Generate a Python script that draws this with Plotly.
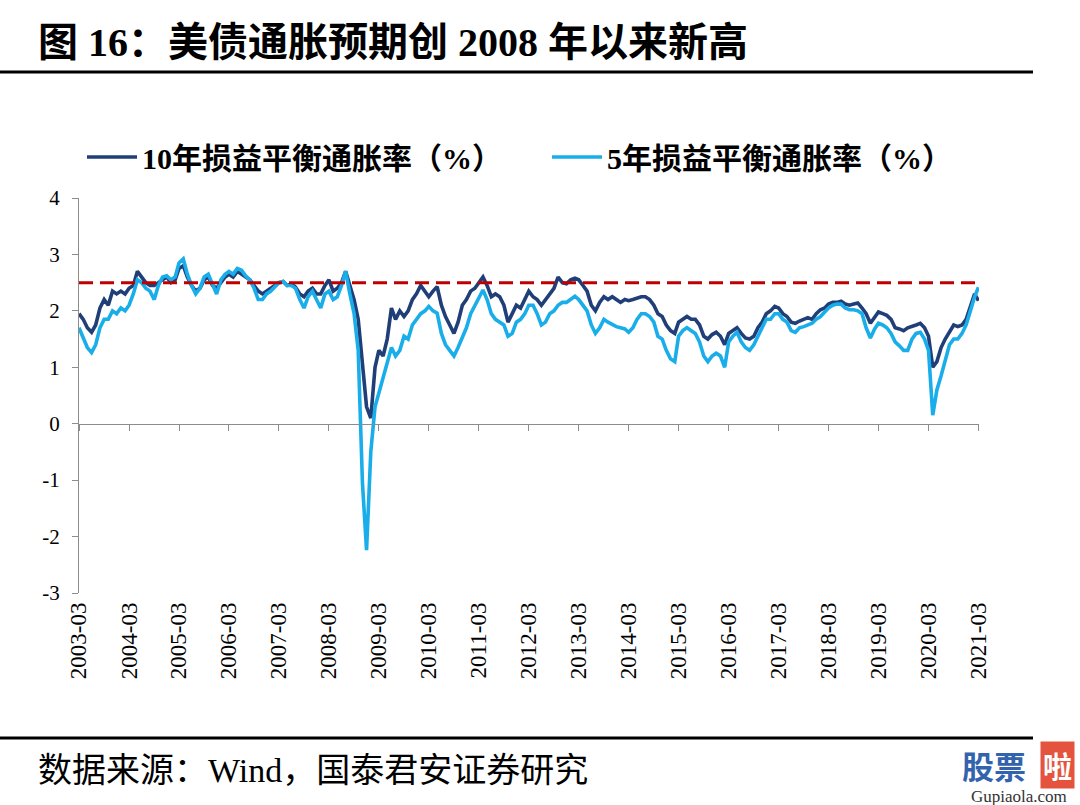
import pandas as pd
import plotly.graph_objects as go

# ---------------- data ----------------
start_month = "2003-03-01"
years = list(range(2003, 2022))
tick_labels = [f"{y}-03" for y in years]

be10 = [
    1.95, 1.85, 1.7, 1.62, 1.75, 2.05, 2.2, 2.1, 2.35, 2.3, 2.35, 2.3,
    2.4, 2.45, 2.7, 2.6, 2.5, 2.45, 2.45, 2.5, 2.55, 2.6, 2.5, 2.55,
    2.75, 2.8, 2.6, 2.45, 2.35, 2.4, 2.55, 2.6, 2.45, 2.4, 2.5, 2.6,
    2.65, 2.6, 2.7, 2.65, 2.6, 2.55, 2.45, 2.35, 2.3, 2.35, 2.4, 2.45,
    2.5, 2.52, 2.45, 2.48, 2.42, 2.3, 2.25, 2.35, 2.4, 2.3, 2.3, 2.45,
    2.55, 2.35, 2.4, 2.5, 2.7, 2.45, 2.2, 1.85, 1.0, 0.3, 0.1, 1.0,
    1.3, 1.2, 1.5, 2.05, 1.85, 2.0, 1.9, 2.0, 2.2, 2.3, 2.45, 2.35,
    2.25, 2.35, 2.43, 2.1, 1.9, 1.75, 1.6, 1.8, 2.1, 2.2, 2.35, 2.4,
    2.5, 2.6, 2.45, 2.25, 2.3, 2.25, 2.1, 1.8, 1.95, 2.1, 2.05, 2.2,
    2.35, 2.25, 2.2, 2.1, 2.2, 2.3, 2.4, 2.6, 2.5, 2.48, 2.55, 2.58,
    2.55, 2.45, 2.35, 2.1, 2.0, 2.15, 2.25, 2.2, 2.25, 2.2, 2.15, 2.2,
    2.18, 2.2, 2.22, 2.25, 2.25, 2.2, 2.1, 1.95, 1.9, 1.75, 1.65, 1.6,
    1.8, 1.85, 1.9, 1.85, 1.85, 1.75, 1.55, 1.5, 1.58, 1.62, 1.55, 1.4,
    1.6, 1.65, 1.7, 1.6, 1.52, 1.5, 1.55, 1.7, 1.8, 1.95, 2.0, 2.08,
    2.05, 1.95, 1.9, 1.8, 1.78, 1.82, 1.85, 1.88, 1.85, 1.95, 2.02, 2.05,
    2.12, 2.15, 2.15, 2.17, 2.12, 2.1, 2.12, 2.14, 2.05, 1.95, 1.78, 1.9,
    1.98, 1.95, 1.92, 1.85, 1.7, 1.68, 1.65, 1.7, 1.72, 1.75, 1.78, 1.7,
    1.55, 1.0, 1.1, 1.35, 1.5, 1.62, 1.75, 1.72, 1.75, 1.85, 2.1, 2.3,
    2.18,
]

be5 = [
    1.7, 1.5, 1.35, 1.26, 1.4, 1.7, 1.85, 1.85, 2.0, 1.95, 2.05, 2.0,
    2.1, 2.3, 2.55, 2.5, 2.4, 2.35, 2.2, 2.45, 2.6, 2.62, 2.55, 2.6,
    2.85, 2.92, 2.65, 2.45, 2.3, 2.4, 2.6, 2.65, 2.45, 2.3, 2.55, 2.65,
    2.7, 2.65, 2.75, 2.72, 2.62, 2.55, 2.4, 2.2, 2.2, 2.3, 2.35, 2.42,
    2.5, 2.52, 2.45, 2.45, 2.4, 2.2, 2.05, 2.25, 2.35, 2.2, 2.05, 2.3,
    2.35, 2.2, 2.25, 2.45, 2.7, 2.3, 1.95, 1.3, -1.05, -2.24, -0.5, 0.3,
    0.55, 0.8, 1.1, 1.35, 1.2, 1.3, 1.55, 1.5, 1.75, 1.85, 1.95, 2.0,
    2.08, 2.0, 1.96, 1.6, 1.4, 1.3, 1.2, 1.35, 1.55, 1.7, 1.95, 2.1,
    2.25, 2.37, 2.2, 1.95, 1.85, 1.8, 1.75, 1.55, 1.6, 1.8, 1.85, 1.95,
    2.1, 2.1, 1.95, 1.75, 1.8, 1.95, 2.0, 2.1, 2.15, 2.15, 2.2, 2.26,
    2.2, 2.1, 2.0, 1.75, 1.6, 1.7, 1.85, 1.8, 1.75, 1.72, 1.7, 1.68,
    1.62, 1.7, 1.85, 1.95, 1.95, 1.9, 1.8, 1.55, 1.5, 1.3, 1.15, 1.1,
    1.55, 1.65, 1.7, 1.65, 1.6, 1.45, 1.2, 1.1, 1.2, 1.25, 1.2, 1.0,
    1.45, 1.55, 1.62, 1.45, 1.35, 1.3, 1.4, 1.55, 1.7, 1.85, 1.85, 1.95,
    1.95, 1.85, 1.8, 1.65, 1.62, 1.7, 1.72, 1.75, 1.78, 1.85, 1.9, 1.98,
    2.05, 2.1, 2.12, 2.12, 2.05, 2.02, 2.02, 2.0, 1.95, 1.7, 1.52, 1.68,
    1.78, 1.75, 1.7, 1.6, 1.45, 1.38, 1.3, 1.3, 1.5, 1.6, 1.62, 1.5,
    1.3, 0.15, 0.6, 0.85, 1.1, 1.4, 1.5, 1.5, 1.6, 1.75, 2.0, 2.25,
    2.42,
]

ref_level = 2.5
y_ticks = [4, 3, 2, 1, 0, -1, -2, -3]
y_tick_labels = ["4", "3", "2", "1", "0", "-1", "-2", "-3"]

name10 = "10年损益平衡通胀率（%）"
name5 = "5年损益平衡通胀率（%）"
title_text = "图 16：美债通胀预期创 2008 年以来新高"
source_text = "数据来源：Wind，国泰君安证券研究"

dates = pd.date_range(start_month, periods=len(be10), freq="MS")
tick_vals = [pd.Timestamp(f"{y}-03-01") for y in years]

# ---------------- figure ----------------
FONT = "Liberation Serif, 'Times New Roman', 'Noto Sans CJK SC', serif"
DARK = "#203F78"
LIGHT = "#19AEEA"
RED = "#C00000"
AXIS = "#8C8C8C"

fig = go.Figure()
fig.add_trace(go.Scatter(x=dates, y=be10, mode="lines", name=f"<b>{name10}</b>",
                         line=dict(color=DARK, width=3.6), legend="legend"))
fig.add_trace(go.Scatter(x=dates, y=be5, mode="lines", name=f"<b>{name5}</b>",
                         line=dict(color=LIGHT, width=3.6), legend="legend2"))
fig.add_trace(go.Scatter(x=[dates[0], dates[-1]], y=[ref_level, ref_level], mode="lines",
                         line=dict(color=RED, width=3, dash="14px,7px"),
                         showlegend=False, hoverinfo="skip", xaxis="x2"))

L, T, W, H = 79, 198, 900, 395
xr = [dates[0], dates[-1] + pd.Timedelta(days=4)]


def px(x):
    return (x - L) / W


def py(y):
    return 1 - (y - T) / H


leg_common = dict(orientation="h", xanchor="left", yanchor="middle",
                  font=dict(size=30, family=FONT, color="black"),
                  itemwidth=50, bgcolor="rgba(0,0,0,0)")

fig.update_layout(
    width=1080, height=805,
    margin=dict(l=L, r=1080 - L - W, t=T, b=805 - T - H),
    paper_bgcolor="white", plot_bgcolor="white",
    font=dict(family=FONT, color="black"),
    showlegend=True,
    legend=dict(x=px(82), y=py(157), **leg_common),
    legend2=dict(x=px(547), y=py(157), **leg_common),
    xaxis=dict(type="date", range=xr, tickvals=tick_vals, ticktext=tick_labels,
               tickangle=-90, ticks="", showline=False, showgrid=False, zeroline=False,
               tickfont=dict(size=23, family=FONT, color="black"), ticklabelstandoff=4),
    xaxis2=dict(type="date", range=xr, overlaying="x", anchor="free", position=3 / 7,
                tickvals=tick_vals, showticklabels=False, ticks="outside", ticklen=6,
                tickcolor=AXIS, tickwidth=1, showline=True, linecolor=AXIS, linewidth=1,
                showgrid=False, zeroline=False, side="bottom"),
    yaxis=dict(range=[-3, 4], tickvals=y_ticks, ticktext=y_tick_labels, ticks="outside",
               ticklen=6, tickcolor=AXIS,
               showline=True, linecolor=AXIS, linewidth=1, showgrid=False, zeroline=False,
               tickfont=dict(size=21, family=FONT, color="black"), ticklabelstandoff=8),
)

# title and source
fig.add_annotation(text=f"<b>{title_text}</b>", xref="paper", yref="paper",
                   x=px(36), y=py(42), xanchor="left", yanchor="middle", showarrow=False,
                   font=dict(size=40, family=FONT, color="black"))
fig.add_annotation(text=source_text, xref="paper", yref="paper",
                   x=px(36), y=py(770), xanchor="left", yanchor="middle", showarrow=False,
                   font=dict(size=34, family=FONT, color="black"))
fig.add_shape(type="line", xref="paper", yref="paper", x0=px(0), x1=px(1033),
              y0=py(72), y1=py(72), line=dict(color="black", width=3))
fig.add_shape(type="line", xref="paper", yref="paper", x0=px(0), x1=px(1033),
              y0=py(738), y1=py(738), line=dict(color="black", width=3))

# watermark
fig.add_annotation(text="<b>股票</b>", xref="paper", yref="paper", x=px(961), y=py(765),
                   xanchor="left", yanchor="middle", showarrow=False, borderpad=0,
                   font=dict(size=32, family="Noto Sans CJK SC", color="#3463AE"))
fig.add_annotation(text="<b>啦</b>", xref="paper", yref="paper", x=px(1057), y=py(765),
                   xanchor="center", yanchor="middle", showarrow=False, bgcolor="#E4533E",
                   borderpad=2, font=dict(size=29, family="Noto Sans CJK SC", color="white"))
fig.add_annotation(text="Gupiaola.com", xref="paper", yref="paper", x=px(1019), y=py(796),
                   xanchor="center", yanchor="middle", showarrow=False,
                   font=dict(size=17, family=FONT, color="#333333"))

fig.write_html("out.html", config={"displayModeBar": False},
               post_script="document.body.style.margin='0';document.body.style.overflow='hidden';")
